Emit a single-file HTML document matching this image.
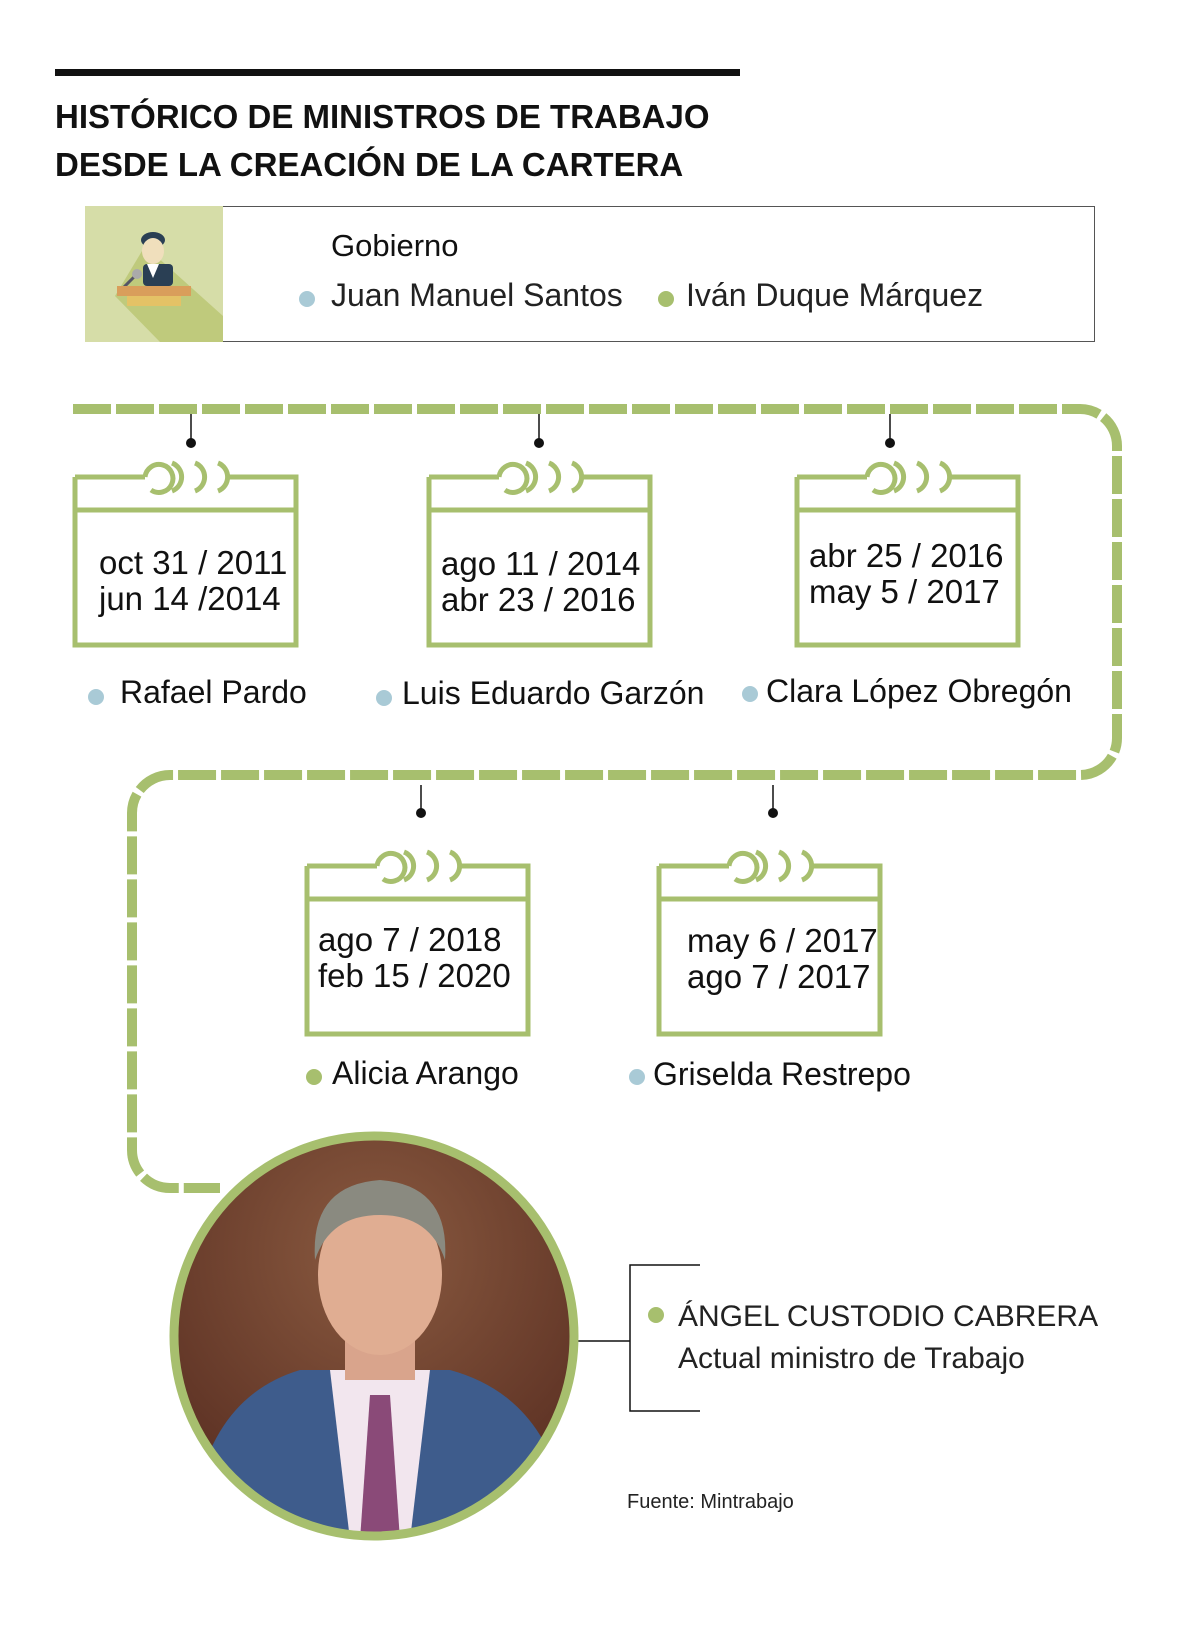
<!DOCTYPE html>
<html><head><meta charset="utf-8"><style>
body{margin:0;width:1200px;height:1631px;background:#fff;position:relative;font-family:"Liberation Sans",sans-serif;overflow:hidden}
.t{position:absolute;white-space:nowrap;color:#111;line-height:1}
.d{position:absolute;border-radius:50%;width:16px;height:16px}
.b{background:#a9cad6}.g{background:#a7bf6e}
</style></head><body>
<div style="position:absolute;left:55px;top:69px;width:685px;height:7px;background:#111"></div>
<div class="t" style="left:55px;top:93px;font-size:33px;font-weight:bold;line-height:48px">HISTÓRICO DE MINISTROS DE TRABAJO<br>DESDE LA CREACIÓN DE LA CARTERA</div>
<div style="position:absolute;left:85px;top:206px;width:1009px;height:134px;border:1px solid #555;border-left:none"></div>
<svg style="position:absolute;left:85px;top:206px" width="138" height="136">
<rect width="138" height="136" fill="#d6dda8"/>
<polygon points="60,40 138,110 138,136 75,136 30,90" fill="#bfca7c"/>
<ellipse cx="68" cy="34" rx="12" ry="8" fill="#2a3f54"/>
<ellipse cx="68" cy="45" rx="11" ry="13" fill="#f0dfbc"/>
<rect x="58" y="58" width="30" height="22" rx="4" fill="#2a3f54"/>
<polygon points="62,58 74,58 68,72" fill="#fff"/>
<line x1="50" y1="70" x2="38" y2="82" stroke="#556" stroke-width="3"/>
<circle cx="52" cy="68" r="5" fill="#aaa"/>
<rect x="32" y="80" width="74" height="10" fill="#d99e5b"/>
<rect x="42" y="90" width="54" height="10" fill="#e4c266"/>
</svg>
<div class="t" style="left:331px;top:230px;font-size:31px">Gobierno</div>
<div class="d b" style="left:299px;top:291px"></div>
<div class="t" style="left:331px;top:279px;font-size:32px;color:#222">Juan Manuel Santos</div>
<div class="d g" style="left:658px;top:291px"></div>
<div class="t" style="left:686px;top:279px;font-size:32px;color:#222">Iván Duque Márquez</div>

<svg style="position:absolute;left:0;top:0" width="1200" height="1631">
<path d="M73,409 H1080 A37,37 0 0 1 1117,446 V738 A37,37 0 0 1 1080,775 H170 A38,38 0 0 0 132,813 V1150 A38,38 0 0 0 170,1188 H220" fill="none" stroke="#a7bf6e" stroke-width="10" stroke-dasharray="38,5"/>
<defs><g id="cal" fill="none" stroke="#a7bf6e" stroke-width="5">
<path d="M2,0 H72 M153,0 H223 V168 H2 V0 M2,33 H223"/>
<path d="M72,0 A14,14 0 1 1 78,13"/>
<path d="M99,-14 A15,15 0 0 1 99,14"/>
<path d="M122,-14 A15,15 0 0 1 122,14"/>
<path d="M145,-14 A15,15 0 0 1 145,14"/>
</g></defs>
<use href="#cal" x="73" y="477"/>
<use href="#cal" x="427" y="477"/>
<use href="#cal" x="795" y="477"/>
<use href="#cal" x="305" y="866"/>
<use href="#cal" x="657" y="866"/>
<g stroke="#111" stroke-width="1.5">
<line x1="191" y1="414" x2="191" y2="443"/><line x1="539" y1="414" x2="539" y2="443"/><line x1="890" y1="414" x2="890" y2="443"/>
<line x1="421" y1="785" x2="421" y2="813"/><line x1="773" y1="785" x2="773" y2="813"/>
<path d="M700,1265 H630 V1411 H700 M576,1341 H630" fill="none"/>
</g>
<g fill="#111"><circle cx="191" cy="443" r="5"/><circle cx="539" cy="443" r="5"/><circle cx="890" cy="443" r="5"/><circle cx="421" cy="813" r="5"/><circle cx="773" cy="813" r="5"/></g>
<defs><clipPath id="cc"><circle cx="374" cy="1336" r="198"/></clipPath>
<radialGradient id="bg" cx="0.5" cy="0.3" r="0.7"><stop offset="0" stop-color="#8a5a40"/><stop offset="1" stop-color="#5a2f22"/></radialGradient></defs>
<g clip-path="url(#cc)">
<rect x="170" y="1130" width="410" height="410" fill="url(#bg)"/>
<path d="M190,1540 Q200,1400 300,1370 L450,1370 Q560,1400 570,1540 Z" fill="#3e5c8c"/>
<polygon points="330,1370 430,1370 410,1540 350,1540" fill="#f2e6ee"/>
<polygon points="370,1395 390,1395 400,1540 360,1540" fill="#8a4a78"/>
<rect x="345" y="1320" width="70" height="60" fill="#d9a48c"/>
<ellipse cx="380" cy="1275" rx="62" ry="80" fill="#e0ad92"/>
<path d="M315,1260 Q310,1185 380,1180 Q450,1185 445,1260 Q430,1215 380,1215 Q330,1215 315,1260Z" fill="#8a8a80"/>
</g>
<circle cx="374" cy="1336" r="200" fill="none" stroke="#a7bf6e" stroke-width="9"/>
</svg>

<div class="t" style="left:99px;top:545px;font-size:33px;line-height:36px">oct 31 / 2011<br>jun 14 /2014</div>
<div class="t" style="left:441px;top:546px;font-size:33px;line-height:36px">ago 11 / 2014<br>abr 23 / 2016</div>
<div class="t" style="left:809px;top:538px;font-size:33px;line-height:36px">abr 25 / 2016<br>may 5 / 2017</div>
<div class="t" style="left:318px;top:922px;font-size:33px;line-height:36px">ago 7 / 2018<br>feb 15 / 2020</div>
<div class="t" style="left:687px;top:923px;font-size:33px;line-height:36px">may 6 / 2017<br>ago 7 / 2017</div>

<div class="d b" style="left:88px;top:689px"></div><div class="t" style="left:120px;top:676px;font-size:32px">Rafael Pardo</div>
<div class="d b" style="left:376px;top:690px"></div><div class="t" style="left:402px;top:677px;font-size:32px">Luis Eduardo Garzón</div>
<div class="d b" style="left:742px;top:686px"></div><div class="t" style="left:766px;top:675px;font-size:32px">Clara López Obregón</div>
<div class="d g" style="left:306px;top:1069px"></div><div class="t" style="left:332px;top:1057px;font-size:32px">Alicia Arango</div>
<div class="d b" style="left:629px;top:1069px"></div><div class="t" style="left:653px;top:1058px;font-size:32px">Griselda Restrepo</div>

<div class="d g" style="left:648px;top:1307px"></div>
<div class="t" style="left:678px;top:1296px;font-size:30px;line-height:42px;color:#222">ÁNGEL CUSTODIO CABRERA<br>Actual ministro de Trabajo</div>
<div class="t" style="left:627px;top:1492px;font-size:20px;color:#222">Fuente: Mintrabajo</div>
</body></html>
